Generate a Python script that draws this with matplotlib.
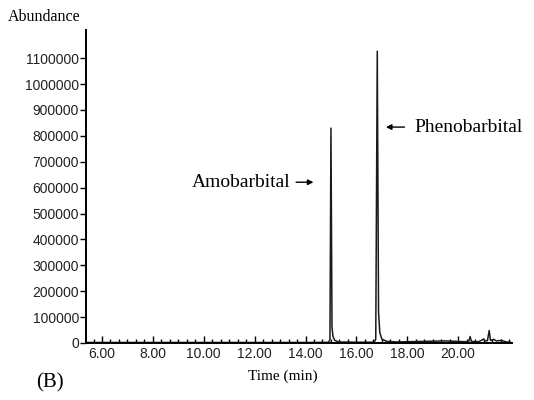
import matplotlib
matplotlib.use("Agg")
import matplotlib.pyplot as plt
from matplotlib.ticker import MultipleLocator, FormatStrFormatter

# chromatogram trace (time in min, abundance)
time_min = [5.40, 6.00, 8.00, 10.00, 12.00, 14.00, 14.90, 14.96, 15.00, 15.04,
            15.08, 15.15, 15.30, 16.00, 16.70, 16.76, 16.82, 16.87, 16.92, 17.00,
            17.20, 17.60, 18.00, 18.50, 19.00, 19.50, 20.00, 20.30, 20.42, 20.47,
            20.52, 20.80, 20.95, 21.00, 21.05, 21.15, 21.22, 21.27, 21.40, 21.50,
            21.70, 21.90, 22.05]
abundance = [2000, 2000, 2000, 2000, 2000, 2000, 2500, 12000, 830000, 60000,
             25000, 10000, 4000, 3000, 3000, 15000, 1127000, 120000, 40000, 15000,
             6000, 4000, 5000, 6000, 7000, 8000, 6000, 5000, 7000, 25000,
             6000, 5000, 12000, 16000, 8000, 9000, 48000, 10000, 14000, 8000,
             10000, 4000, 3000]

peak_names = ["Amobarbital", "Phenobarbital"]
y_ticks = [0, 100000, 200000, 300000, 400000, 500000, 600000,
           700000, 800000, 900000, 1000000, 1100000]

serif = ["Liberation Serif", "DejaVu Serif"]
sans = ["Liberation Sans", "DejaVu Sans"]

fig = plt.figure(figsize=(5.34, 4.0), dpi=100)
ax = fig.add_axes([0.161, 0.1425, 0.798, 0.7825])

ax.plot(time_min, abundance, color="#1a1a1a", lw=1.1)

ax.set_xlim(5.37, 22.12)
ax.set_ylim(0, 1209000)

for side in ["top", "right"]:
    ax.spines[side].set_visible(False)
for side in ["left", "bottom"]:
    ax.spines[side].set_linewidth(1.4)

ax.xaxis.set_major_locator(MultipleLocator(2))
ax.xaxis.set_minor_locator(MultipleLocator(1 / 3))
ax.xaxis.set_major_formatter(FormatStrFormatter("%.2f"))
ax.set_xticks(range(6, 21, 2))
ax.set_yticks(y_ticks)
ax.set_yticklabels([str(v) for v in y_ticks])

ax.tick_params(axis="x", which="major", direction="in", length=5, width=1, pad=3)
ax.tick_params(axis="x", which="minor", direction="in", length=3, width=1)
ax.tick_params(axis="y", direction="out", length=4, width=1, pad=1)
for lab in ax.get_xticklabels() + ax.get_yticklabels():
    lab.set_family(sans)
    lab.set_fontsize(10)
    lab.set_color("#222222")

# peak labels with arrows
ax.annotate("", xy=(14.42, 621000), xytext=(13.52, 621000),
            arrowprops=dict(arrowstyle="-|>", lw=1, color="black",
                            mutation_scale=8))
ax.text(13.40, 621000, peak_names[0], family=serif, fontsize=14,
        ha="right", va="center")
ax.annotate("", xy=(17.05, 834000), xytext=(18.0, 834000),
            arrowprops=dict(arrowstyle="-|>", lw=1, color="black",
                            mutation_scale=8))
ax.text(18.27, 834000, peak_names[1], family=serif, fontsize=14,
        ha="left", va="center")

fig.text(0.083, 0.957, "Abundance", family=serif, fontsize=11.5,
         ha="center", va="center")
fig.text(0.529, 0.06, "Time (min)", family=serif, fontsize=11,
         ha="center", va="center")
fig.text(0.094, 0.043, "(B)", family=serif, fontsize=15,
         ha="center", va="center")

fig.savefig("out.png", dpi=100)
